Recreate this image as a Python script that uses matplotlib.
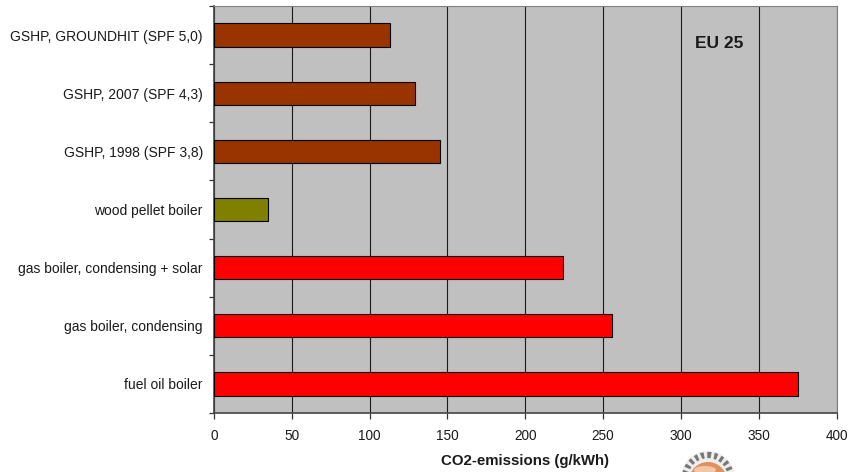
import matplotlib
matplotlib.use('Agg')

import matplotlib.pyplot as plt
from matplotlib.patches import Circle, Ellipse

categories = ['fuel oil boiler', 'gas boiler, condensing', 'gas boiler, condensing + solar',
    'wood pellet boiler', 'GSHP, 1998 (SPF 3,8)', 'GSHP, 2007 (SPF 4,3)', 'GSHP, GROUNDHIT (SPF 5,0)']
emissions = [375, 256, 224, 35, 145, 129, 113]
bar_colors = ['#ff0000', '#ff0000', '#ff0000', '#808000', '#993300', '#993300', '#993300']
x_ticks = [0, 50, 100, 150, 200, 250, 300, 350, 400]

plt.rcParams['font.family'] = ['Liberation Sans', 'DejaVu Sans']

W, H = 851, 472
text_color = '#1a1a1a'
fig = plt.figure(figsize=(W / 100, H / 100), dpi=100)
ax = fig.add_axes([214 / W, 1 - 413 / H, (836.5 - 214) / W, (413 - 6) / H])
ax.set_facecolor('#c0c0c0')

ax.barh(range(len(categories)), emissions, height=0.4, color=bar_colors,
    edgecolor='black', linewidth=0.8, zorder=3)

ax.set_xlim(0, 400)
ax.set_ylim(-0.5, len(categories) - 0.5)
ax.set_xticks(x_ticks)
ax.set_xticklabels([str(t) for t in x_ticks], fontsize=9.8, color=text_color)
ax.set_yticks(range(len(categories)))
ax.set_yticklabels(categories, fontsize=10, color=text_color)
ax.tick_params(axis='y', which='major', length=0, pad=8)

# ticks sit between the categories, excel style
ax.set_yticks([i - 0.5 for i in range(len(categories) + 1)], minor=True)
ax.tick_params(axis='y', which='minor', length=3.6, width=0.9, color='#333333')
ax.tick_params(axis='x', length=4.3, width=0.9, color='#333333', pad=7)

ax.grid(axis='x', color='#1a1a1a', linewidth=0.8, zorder=1)
ax.set_axisbelow(True)
for side in ['top', 'right']:
    ax.spines[side].set_color('#808080')
for side in ['left', 'bottom']:
    ax.spines[side].set_color('#444444')
    ax.spines[side].set_linewidth(1.2)

ax.set_xlabel('CO2-emissions (g/kWh)', fontsize=10.8, fontweight='bold', labelpad=8, color=text_color)
ax.text(0.773, 0.909, 'EU 25', transform=ax.transAxes, fontsize=12.5, fontweight='bold',
    ha='left', va='center', zorder=4, color=text_color)

# small round logo cut off by the bottom edge
logo = fig.add_axes([0, 0, 1, 1], facecolor='none')
logo.set_xlim(0, W)
logo.set_ylim(H, 0)
logo.axis('off')
logo.add_patch(Circle((708, 478), 27, facecolor='#eeeeee', edgecolor='none'))
logo.add_patch(Circle((708, 478), 23, facecolor='none', edgecolor='#777777', linewidth=4.5, linestyle=(0, (0.5, 0.5))))
logo.add_patch(Circle((708, 481), 19, facecolor='#e0905a', edgecolor='none'))
logo.add_patch(Ellipse((705, 470), 22, 8, facecolor='#f0c8a8', edgecolor='none'))

plt.savefig('out.png', dpi=100)
